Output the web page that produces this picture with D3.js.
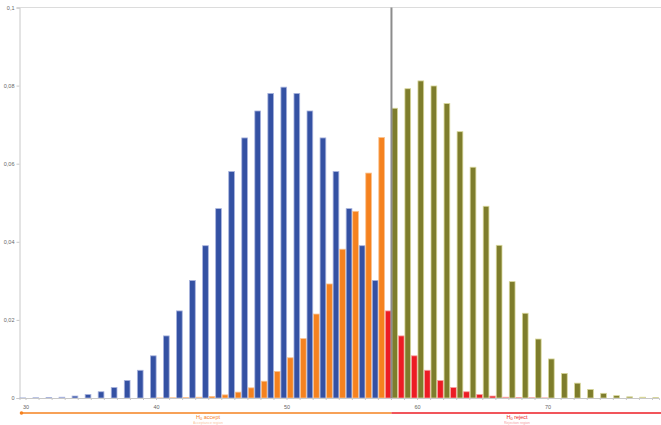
<!DOCTYPE html>
<html>
<head>
<meta charset="utf-8">
<script src="https://cdn.jsdelivr.net/npm/d3@7"></script>
<style>
  body { margin: 0; background: #fff; }
  svg { display: block; font-family: "Liberation Sans", Arial, sans-serif; }
</style>
</head>
<body>
<div id="chart"></div>
<script>
const width = 661;
const height = 425;

// number of successes (categories on the x axis)
const successes = [30, 31, 32, 33, 34, 35, 36, 37, 38, 39, 40, 41, 42, 43, 44, 45, 46, 47, 48, 49,
  50, 51, 52, 53, 54, 55, 56, 57, 58, 59, 60, 61, 62, 63, 64, 65, 66, 67, 68, 69,
  70, 71, 72, 73, 74, 75, 76, 77, 78];

// distribution under H0 (blue, red in the rejection region)
const h0Values = [0.00002, 0.00005, 0.0001, 0.0002, 0.0005, 0.0009, 0.0016, 0.0027, 0.0045, 0.0071,
  0.0108, 0.0159, 0.0223, 0.0301, 0.039, 0.0485, 0.058, 0.0666, 0.0735, 0.078,
  0.0796, 0.078, 0.0735, 0.0666, 0.058, 0.0485, 0.039, 0.0301, 0.0223, 0.0159,
  0.0108, 0.0071, 0.0045, 0.0027, 0.0016, 0.0009, 0.0005, 0.0002, 0.0001, 0.00005,
  0.00002, 0, 0, 0, 0, 0, 0, 0, 0];

// distribution under H1 (olive, orange in the acceptance region)
const h1Values = [0, 0, 0, 0, 0, 0, 0, 0, 0, 0,
  0.00002, 0.00005, 0.0001, 0.0002, 0.0004, 0.0008, 0.0015, 0.0026, 0.0043, 0.0068,
  0.0103, 0.0152, 0.0215, 0.0292, 0.0381, 0.0478, 0.0576, 0.0667, 0.0742, 0.0792,
  0.0812, 0.0799, 0.0754, 0.0682, 0.0591, 0.0491, 0.0391, 0.0298, 0.0217, 0.0151,
  0.01, 0.0063, 0.0038, 0.0022, 0.0012, 0.0006, 0.0003, 0.0002, 0.0001];

const yTicks = [0, 0.02, 0.04, 0.06, 0.08, 0.1];
const criticalValue = 58;
const acceptLabel = "accept";
const acceptSub = "Acceptance region";
const rejectLabel = "reject";
const rejectSub = "Rejection region";

const colors = {
  h0: "#3451a3",
  h0Reject: "#ec1c24",
  h1: "#7e7d2c",
  h1Accept: "#f5821f"
};
const strokes = {
  h0: "#a9b4de",
  h0Reject: "#f7a0a0",
  h1: "#d8d79a",
  h1Accept: "#fbc28e"
};

const margin = { top: 7.5, right: 2, bottom: 27, left: 19.5 };

const svg = d3
  .select("#chart")
  .append("svg")
  .attr("width", width)
  .attr("height", height);

const x = d3
  .scaleBand()
  .domain(successes)
  .range([margin.left, width - margin.right])
  .padding(0);

const xSub = d3
  .scaleBand()
  .domain(["h0", "h1"])
  .range([0, x.bandwidth()])
  .padding(0);

const y = d3
  .scaleLinear()
  .domain([0, 0.1])
  .range([height - margin.bottom, margin.top]);

const locale = d3.formatLocale({ decimal: ",", thousands: ".", grouping: [3], currency: ["", ""] });
const fmt = locale.format("~g");

// top frame line
svg.append("line")
  .attr("x1", margin.left).attr("x2", width)
  .attr("y1", y(0.1)).attr("y2", y(0.1))
  .attr("stroke", "#dcdcdc").attr("stroke-width", 1);

// y axis
const yAxis = svg.append("g")
  .attr("transform", `translate(${margin.left},0)`)
  .call(d3.axisLeft(y).tickValues(yTicks).tickFormat(fmt).tickSize(3).tickPadding(2));
yAxis.select(".domain").attr("stroke", "#c8c8c8");
yAxis.selectAll(".tick line").attr("stroke", "#c8c8c8");
yAxis.selectAll("text").attr("fill", "#666").style("font-size", "5.5px");

// bars
const rows = successes.map((k, i) => ({ k, h0: h0Values[i], h1: h1Values[i] }));

const groups = svg.append("g")
  .selectAll("g")
  .data(rows)
  .join("g")
  .attr("transform", (d) => `translate(${x(d.k)},0)`);

groups.append("rect")
  .attr("x", xSub("h0") + 0.4)
  .attr("width", xSub.bandwidth() - 0.8)
  .attr("y", (d) => y(d.h0))
  .attr("height", (d) => y(0) - y(d.h0))
  .attr("fill", (d) => (d.k >= criticalValue ? colors.h0Reject : colors.h0))
  .attr("stroke", (d) => (d.k >= criticalValue ? strokes.h0Reject : strokes.h0))
  .attr("stroke-width", 0.8);

groups.append("rect")
  .attr("x", xSub("h1") + 0.4)
  .attr("width", xSub.bandwidth() - 0.8)
  .attr("y", (d) => y(d.h1))
  .attr("height", (d) => y(0) - y(d.h1))
  .attr("fill", (d) => (d.k < criticalValue ? colors.h1Accept : colors.h1))
  .attr("stroke", (d) => (d.k < criticalValue ? strokes.h1Accept : strokes.h1))
  .attr("stroke-width", 0.8);

// x axis
const xAxis = svg.append("g")
  .attr("transform", `translate(0,${y(0)})`)
  .call(d3.axisBottom(x)
    .tickValues(successes)
    .tickFormat((d) => (d % 10 === 0 ? d : ""))
    .tickSize(2)
    .tickPadding(5));
xAxis.select(".domain").attr("stroke", "#c8c8c8");
xAxis.selectAll(".tick line").attr("stroke", "#c8c8c8");
xAxis.selectAll("text").attr("fill", "#666").style("font-size", "5.5px");

// critical value line
const critX = x(criticalValue) + x.bandwidth() / 2;
svg.append("line")
  .attr("x1", critX).attr("x2", critX)
  .attr("y1", y(0.1)).attr("y2", y(0))
  .attr("stroke", "#8c8c8c").attr("stroke-width", 2);

// regions below the axis
const regionY = 413;
svg.append("line")
  .attr("x1", margin.left + 2).attr("x2", critX)
  .attr("y1", regionY).attr("y2", regionY)
  .attr("stroke", colors.h1Accept).attr("stroke-width", 1.5);
svg.append("circle")
  .attr("cx", margin.left + 2).attr("cy", regionY).attr("r", 1.8)
  .attr("fill", colors.h1Accept);
svg.append("line")
  .attr("x1", critX).attr("x2", width)
  .attr("y1", regionY).attr("y2", regionY)
  .attr("stroke", colors.h0Reject).attr("stroke-width", 1.5);

function regionLabel(cx, color, word, sub) {
  const t = svg.append("text")
    .attr("x", cx).attr("y", regionY + 5.5)
    .attr("text-anchor", "middle")
    .attr("fill", color)
    .style("font-size", "5.5px");
  t.append("tspan").text("H");
  t.append("tspan").attr("dy", 1).style("font-size", "4px").text("0");
  t.append("tspan").attr("dy", -1).text(" " + word);
  svg.append("text")
    .attr("x", cx).attr("y", regionY + 10.8)
    .attr("text-anchor", "middle")
    .attr("fill", color)
    .attr("opacity", 0.45)
    .style("font-size", "3.6px")
    .text(sub);
}

regionLabel(208, colors.h1Accept, acceptLabel, acceptSub);
regionLabel(517, colors.h0Reject, rejectLabel, rejectSub);
</script>
</body>
</html>
